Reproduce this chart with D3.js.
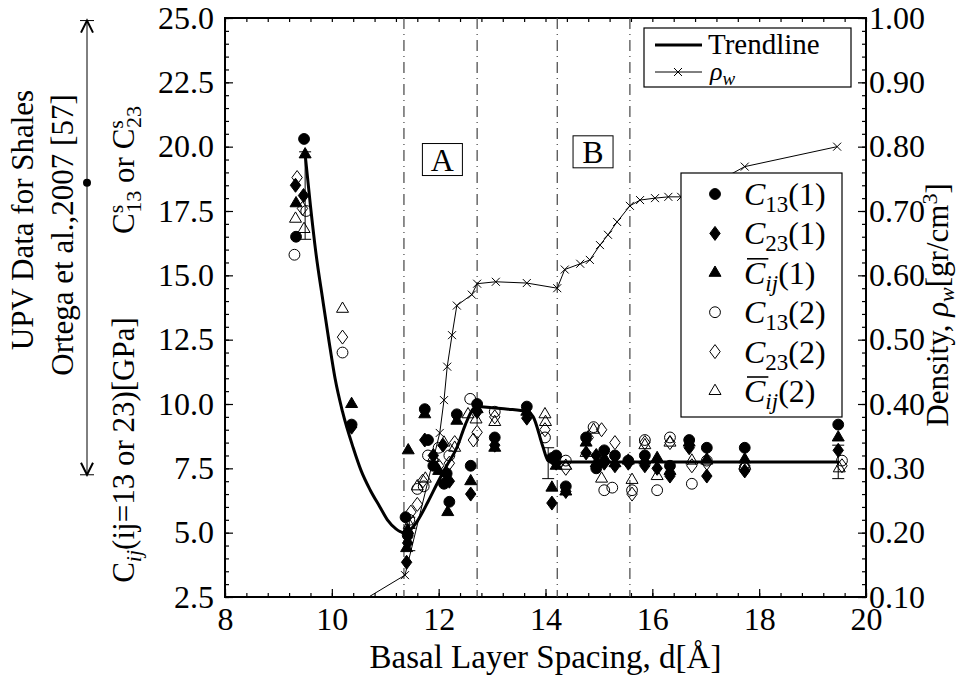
<html>
<head>
  <script src="https://d3js.org/d3.v7.min.js"></script>
  <style>
    body { margin: 0; background: white; }
    svg text { font-family: "Liberation Serif", "Times New Roman", "DejaVu Serif", serif; fill: black; }
    .axis path.domain { display: none; }
    .axis line { stroke: black; stroke-width: 1.2px; }
    .axis text { font-size: 32px; }
  </style>
</head>
<body>
<svg id="chart" width="959" height="679"></svg>
<script>
// ---- data ----
// trendline
const trendD = [9.5, 9.6, 9.7, 9.83, 9.95, 10.06, 10.2, 10.4, 10.55, 10.72, 10.9, 11.04, 11.2, 11.28, 11.35, 11.45,
  11.6, 11.8, 11.97, 12.15, 12.34, 12.5, 12.64, 12.72, 13.0, 13.3, 13.65, 13.77, 13.95, 14.05, 14.15, 19.5];
const trendC = [19.7, 17.7, 15.9, 14.05, 12.4, 11.0, 9.7, 8.3, 7.4, 6.65, 6.0, 5.5, 5.15, 5.04, 5.0, 5.08,
  5.45, 6.2, 6.9, 7.6, 8.3, 9.2, 9.8, 9.9, 9.85, 9.8, 9.7, 9.5, 8.35, 7.8, 7.75, 7.75];

// water density rho_w (right axis)
const rhoD = [10.45, 11.37, 12.02, 12.1, 12.16, 12.25, 12.34, 12.62, 12.72, 13.07, 13.65, 14.22, 14.36, 14.65,
  14.83, 15.02, 15.17, 15.34, 15.58, 15.77, 16.05, 16.3, 16.54, 16.76, 17.73, 19.46];
const rhoV = [0.088, 0.134, 0.355, 0.406, 0.458, 0.507, 0.553, 0.57, 0.587, 0.59, 0.588, 0.58, 0.609, 0.618,
  0.624, 0.647, 0.663, 0.683, 0.708, 0.717, 0.72, 0.722, 0.722, 0.725, 0.769, 0.80];

// stiffness data, [d, C]
const c13a = [[9.33,16.5],[9.48,20.3],[10.37,9.2],[11.38,5.6],[11.42,4.9],[11.74,9.8],[11.8,8.6],[11.9,7.6],[12.1,6.9],
  [12.15,7.3],[12.2,6.2],[12.34,9.6],[12.6,7.6],[12.72,10.0],[13.05,8.7],[13.65,9.9],[14.12,7.9],[14.2,8.0],[14.38,6.8],
  [14.76,8.7],[14.95,7.5],[15.1,8.2],[15.3,8.0],[15.55,7.8],[15.86,8.0],[16.33,7.6],[16.69,8.6],[17.02,8.3],[17.73,8.3],[19.48,9.2]];
const c23a = [[9.32,18.5],[9.47,18.1],[10.37,9.1],[11.4,3.85],[11.42,4.6],[11.74,8.6],[11.9,8.0],[12.08,8.4],[12.2,7.0],
  [12.6,6.5],[12.72,9.7],[13.05,8.4],[13.65,9.45],[14.12,6.15],[14.2,7.7],[14.38,6.6],[14.76,8.1],[14.95,8.0],[15.1,7.7],
  [15.3,7.6],[15.55,7.7],[15.86,7.6],[16.09,7.5],[16.33,7.2],[16.69,8.3],[17.02,7.2],[17.73,7.4],[19.48,8.2]];
const cija = [[9.33,17.8],[9.5,19.7],[10.37,10.0],[11.43,8.2],[11.4,4.4],[11.42,5.1],[11.74,9.6],[12.0,7.4],[12.17,5.8],
  [12.34,9.35],[12.6,7.0],[12.72,9.8],[13.05,8.3],[13.65,9.7],[14.12,6.75],[14.2,7.6],[14.38,6.6],[14.76,8.5],[14.95,7.7],
  [15.1,7.9],[15.3,7.7],[15.55,7.8],[15.86,7.8],[16.09,7.9],[16.33,7.4],[16.69,8.5],[17.02,7.85],[17.73,7.85],[19.48,8.7]];
const c13b = [[9.3,15.8],[9.52,17.5],[10.2,12.0],[11.45,5.5],[11.6,6.7],[11.72,6.8],[11.8,8.0],[12.0,8.3],[12.2,8.0],
  [12.59,10.2],[13.05,9.7],[13.99,8.7],[14.38,7.8],[14.9,9.1],[15.1,6.65],[15.25,6.75],[15.62,6.65],[15.86,8.6],[16.09,6.65],
  [16.33,8.7],[16.74,6.9],[17.02,7.8],[17.73,7.5],[19.55,7.8]];
const c23b = [[9.35,18.8],[9.45,17.6],[10.2,12.6],[11.48,5.8],[11.6,6.1],[11.7,7.0],[12.0,7.6],[12.2,7.7],[12.3,8.5],
  [12.65,8.6],[12.72,8.9],[13.05,9.5],[13.99,9.0],[14.38,7.5],[14.8,8.7],[15.05,9.0],[15.3,8.5],[15.62,6.5],[15.86,8.5],
  [16.33,8.5],[16.74,7.6],[17.02,7.7],[17.73,7.6],[19.55,7.6]];
const cijb = [[9.32,17.2],[9.48,16.8],[10.2,13.7],[11.45,5.3],[11.6,6.8],[11.75,7.1],[11.9,7.9],[12.1,8.5],[12.3,8.3],
  [12.55,9.6],[12.7,9.4],[13.05,9.3],[13.99,9.6],[14.0,9.3],[14.38,7.6],[14.76,8.1],[14.9,9.0],[15.05,7.1],[15.62,7.05],
  [15.86,8.4],[16.09,7.2],[16.33,8.5],[16.74,7.8],[17.02,7.8],[17.73,7.6],[19.5,7.5]];

// error bars [d, low, high]
const errBars = [[9.5,16.4,19.8],[11.45,4.3,5.6],[14.05,7.1,8.3],[19.48,7.1,8.4]];

// region boundaries (dash-dot lines) and labels
const regionLines = [11.35, 12.72, 14.22, 15.58];
const regionLabels = [{ t: "A", d: 12.07, c: 19.5 }, { t: "B", d: 14.89, c: 19.8 }];

// Ortega et al. range on the left
const upvRange = [7.25, 24.9];
const upvMean = 18.6;

const xMajor = [8, 10, 12, 14, 16, 18, 20];
const yMajor = [2.5, 5, 7.5, 10, 12.5, 15, 17.5, 20, 22.5, 25];
const rMajor = [0.1, 0.2, 0.3, 0.4, 0.5, 0.6, 0.7, 0.8, 0.9, 1.0];

// ---- layout ----
const svg = d3.select("#chart");
const L = 225, R = 866, T = 18, B = 597;

const x = d3.scaleLinear().domain([8, 20]).range([L, R]);
const y = d3.scaleLinear().domain([2.5, 25]).range([B, T]);
const yr = d3.scaleLinear().domain([0.1, 1.0]).range([B, T]);

svg.append("defs").append("clipPath").attr("id", "clip")
  .append("rect").attr("x", L).attr("y", T).attr("width", R - L).attr("height", B - T);

// axes (ticks point inward)
const xMinor = d3.range(0, 31).map(i => 8 + i * 0.4);
const yMinor = d3.range(0, 46).map(i => 2.5 + i * 0.5);
const rMinor = d3.range(0, 46).map(i => 0.1 + i * 0.02);

svg.append("g").attr("class", "axis").attr("transform", `translate(0,${B})`)
  .call(d3.axisBottom(x).tickValues(xMinor).tickSize(-4).tickFormat(""));
svg.append("g").attr("class", "axis").attr("transform", `translate(0,${B})`)
  .call(d3.axisBottom(x).tickValues(xMajor).tickSize(-8).tickPadding(10).tickFormat(d3.format("d")));
svg.append("g").attr("class", "axis").attr("transform", `translate(0,${T})`)
  .call(d3.axisTop(x).tickValues(xMinor).tickSize(-4).tickFormat(""));
svg.append("g").attr("class", "axis").attr("transform", `translate(${L},0)`)
  .call(d3.axisLeft(y).tickValues(yMinor).tickSize(-4).tickFormat(""));
svg.append("g").attr("class", "axis").attr("transform", `translate(${L},0)`)
  .call(d3.axisLeft(y).tickValues(yMajor).tickSize(-8).tickPadding(11).tickFormat(d3.format(".1f")));
svg.append("g").attr("class", "axis").attr("transform", `translate(${R},0)`)
  .call(d3.axisRight(yr).tickValues(rMinor).tickSize(-4).tickFormat(""));
svg.append("g").attr("class", "axis").attr("transform", `translate(${R},0)`)
  .call(d3.axisRight(yr).tickValues(rMajor).tickSize(-8).tickPadding(3).tickFormat(d3.format(".2f")));

// frame
svg.append("rect").attr("x", L).attr("y", T).attr("width", R - L).attr("height", B - T)
  .attr("fill", "none").attr("stroke", "black").attr("stroke-width", 2);

const plot = svg.append("g").attr("clip-path", "url(#clip)");

// dash-dot region lines
plot.selectAll("line.region").data(regionLines).join("line")
  .attr("class", "region")
  .attr("x1", d => x(d)).attr("x2", d => x(d)).attr("y1", T).attr("y2", B)
  .attr("stroke", "#444").attr("stroke-width", 1.2)
  .attr("stroke-dasharray", "11,5,1,5");

// region label boxes
regionLabels.forEach(r => {
  const g = svg.append("g");
  g.append("rect").attr("x", x(r.d) - 20).attr("y", y(r.c) - 16)
    .attr("width", 40).attr("height", 32).attr("fill", "white").attr("stroke", "black").attr("stroke-width", 1);
  g.append("text").attr("x", x(r.d)).attr("y", y(r.c) + 11)
    .attr("text-anchor", "middle").style("font-size", "32px").text(r.t);
});

// rho_w line with crosses
const crossPath = "M-4,-4L4,4M-4,4L4,-4";
const rhoPts = rhoD.map((d, i) => [d, rhoV[i]]);
plot.append("path").datum(rhoPts)
  .attr("fill", "none").attr("stroke", "black").attr("stroke-width", 1)
  .attr("d", d3.line().x(d => x(d[0])).y(d => yr(d[1])));
plot.selectAll("path.rho").data(rhoPts).join("path")
  .attr("class", "rho")
  .attr("transform", d => `translate(${x(d[0])},${yr(d[1])})`)
  .attr("d", crossPath).attr("stroke", "black").attr("stroke-width", 1);

// markers
const circ = d3.symbol(d3.symbolCircle, 92)();
const tri = "M0,-6.8L6,3.5L-6,3.5Z";
const dia = "M0,-7L5.2,0L0,7L-5.2,0Z";
const series = [
  { data: c13a, shape: circ, fill: "black" },
  { data: c23a, shape: dia, fill: "black" },
  { data: cija, shape: tri, fill: "black" },
  { data: c13b, shape: circ, fill: "none" },
  { data: c23b, shape: dia, fill: "none" },
  { data: cijb, shape: tri, fill: "none" }
];

// error bars
const eb = plot.selectAll("g.err").data(errBars).join("g").attr("class", "err");
eb.append("line").attr("x1", d => x(d[0])).attr("x2", d => x(d[0]))
  .attr("y1", d => y(d[1])).attr("y2", d => y(d[2])).attr("stroke", "black");
eb.append("line").attr("x1", d => x(d[0]) - 6).attr("x2", d => x(d[0]) + 6)
  .attr("y1", d => y(d[1])).attr("y2", d => y(d[1])).attr("stroke", "black");
eb.append("line").attr("x1", d => x(d[0]) - 6).attr("x2", d => x(d[0]) + 6)
  .attr("y1", d => y(d[2])).attr("y2", d => y(d[2])).attr("stroke", "black");

series.forEach((s, i) => {
  plot.selectAll("path.s" + i).data(s.data).join("path")
    .attr("class", "s" + i)
    .attr("transform", d => `translate(${x(d[0])},${y(d[1])})`)
    .attr("d", s.shape)
    .attr("fill", s.fill)
    .attr("stroke", "black").attr("stroke-width", 1);
});

// trendline
const trendPts = trendD.map((d, i) => [d, trendC[i]]);
plot.append("path").datum(trendPts)
  .attr("fill", "none").attr("stroke", "black").attr("stroke-width", 3)
  .attr("d", d3.line().curve(d3.curveMonotoneX).x(d => x(d[0])).y(d => y(d[1])));

// legend 1
const lg1 = svg.append("g");
lg1.append("rect").attr("x", 644).attr("y", 28).attr("width", 207).attr("height", 59)
  .attr("fill", "white").attr("stroke", "black").attr("stroke-width", 1.2);
lg1.append("line").attr("x1", 655).attr("x2", 702).attr("y1", 45).attr("y2", 45)
  .attr("stroke", "black").attr("stroke-width", 3);
lg1.append("text").attr("x", 708).attr("y", 54).style("font-size", "29px").text("Trendline");
lg1.append("line").attr("x1", 655).attr("x2", 702).attr("y1", 72).attr("y2", 72)
  .attr("stroke", "black").attr("stroke-width", 1);
lg1.append("path").attr("transform", "translate(678,72)").attr("d", crossPath).attr("stroke", "black");
const rl = lg1.append("text").attr("x", 710).attr("y", 80).style("font-size", "26px");
rl.append("tspan").style("font-style", "italic").text("ρ");
rl.append("tspan").attr("dy", 5).style("font-size", "19px").style("font-style", "italic").text("w");

// legend 2
const lg2 = svg.append("g");
lg2.append("rect").attr("x", 681).attr("y", 173).attr("width", 161).attr("height", 244)
  .attr("fill", "white").attr("stroke", "black").attr("stroke-width", 1.2);
const legNames = [["C", "13", "(1)", false], ["C", "23", "(1)", false], ["C", "ij", "(1)", true],
  ["C", "13", "(2)", false], ["C", "23", "(2)", false], ["C", "ij", "(2)", true]];
series.forEach((s, i) => {
  const yy = 194 + i * 39.4;
  lg2.append("path").attr("transform", `translate(715,${yy})`).attr("d", s.shape)
    .attr("fill", s.fill).attr("stroke", "black").attr("stroke-width", 1);
  const n = legNames[i];
  const t = lg2.append("text").attr("x", 744).attr("y", yy + 11).style("font-size", "32px");
  t.append("tspan").style("font-style", "italic").text(n[0]);
  t.append("tspan").attr("dy", 7).style("font-size", "23px").style("font-style", n[3] ? "italic" : "normal").text(n[1]);
  t.append("tspan").attr("dy", -7).text(n[2]);
  if (n[3]) {
    const w = t.node().getSubStringLength(0, 1);
    lg2.append("line").attr("x1", 747).attr("x2", 744 + w + 3)
      .attr("y1", yy - 14).attr("y2", yy - 14).attr("stroke", "black").attr("stroke-width", 1.6);
  }
});

// axis titles
svg.append("text").attr("x", (L + R) / 2).attr("y", 668).attr("text-anchor", "middle")
  .style("font-size", "33px").text("Basal Layer Spacing, d[Å]");

const rt = svg.append("text").attr("transform", "translate(948,305) rotate(-90)")
  .attr("text-anchor", "middle").style("font-size", "31px");
rt.append("tspan").text("Density, ");
rt.append("tspan").style("font-style", "italic").text("ρ");
rt.append("tspan").attr("dy", 6).style("font-size", "22px").style("font-style", "italic").text("w");
rt.append("tspan").attr("dy", -6).text("[gr/cm");
rt.append("tspan").attr("dy", -11).style("font-size", "22px").text("3");
rt.append("tspan").attr("dy", 11).text("]");

// left annotation
svg.append("text").attr("transform", "translate(33,220) rotate(-90)").attr("text-anchor", "middle")
  .style("font-size", "31px").text("UPV Data for Shales");
svg.append("text").attr("transform", "translate(73,235) rotate(-90)").attr("text-anchor", "middle")
  .style("font-size", "31px").text("Ortega et al.,2007 [57]");

const cs = svg.append("text").attr("transform", "translate(134,170) rotate(-90)").attr("text-anchor", "middle")
  .style("font-size", "31px");
cs.append("tspan").text("C");
cs.append("tspan").attr("dy", -11).style("font-size", "22px").text("s");
cs.append("tspan").attr("dx", -8).attr("dy", 18).style("font-size", "22px").text("13");
cs.append("tspan").attr("dy", -7).text(" or C");
cs.append("tspan").attr("dy", -11).style("font-size", "22px").text("s");
cs.append("tspan").attr("dx", -8).attr("dy", 18).style("font-size", "22px").text("23");

const cl = svg.append("text").attr("transform", "translate(134,450) rotate(-90)").attr("text-anchor", "middle")
  .style("font-size", "31px");
cl.append("tspan").text("C");
cl.append("tspan").attr("dy", 7).style("font-size", "22px").style("font-style", "italic").text("ij");
cl.append("tspan").attr("dy", -7).text("(ij=13 or 23)[GPa]");

// range arrow
const ax = 87;
const ar = svg.append("g").attr("stroke", "black");
ar.append("line").attr("x1", ax).attr("x2", ax).attr("y1", y(upvRange[1])).attr("y2", y(upvRange[0])).attr("stroke-width", 1);
[upvRange[0], upvRange[1]].forEach((v, i) => {
  const yy = y(v);
  ar.append("line").attr("x1", ax - 7).attr("x2", ax + 7).attr("y1", yy).attr("y2", yy).attr("stroke-width", 1);
  const s = i === 0 ? -1 : 1;
  ar.append("path").attr("d", `M${ax - 6},${yy + s * 12}L${ax},${yy}L${ax + 6},${yy + s * 12}`)
    .attr("fill", "none").attr("stroke-width", 2);
});
svg.append("circle").attr("cx", ax).attr("cy", y(upvMean)).attr("r", 4).attr("fill", "black");
</script>
</body>
</html>
